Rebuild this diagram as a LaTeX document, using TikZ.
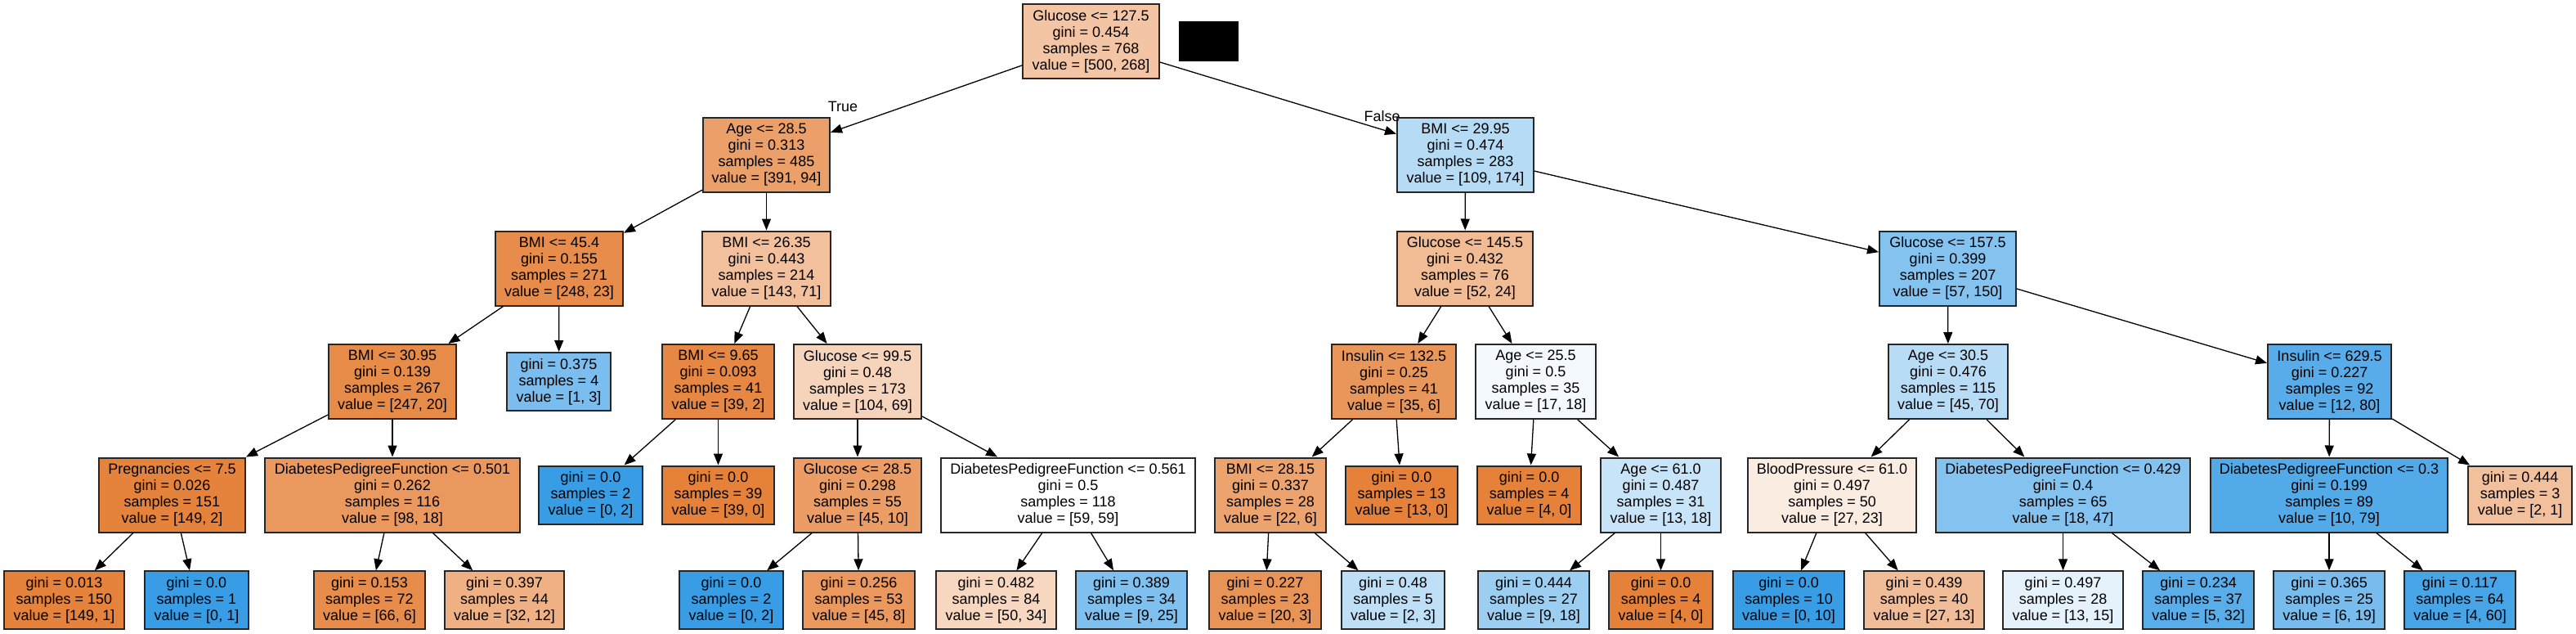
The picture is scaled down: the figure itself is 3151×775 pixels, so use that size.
\documentclass[tikz,border=0pt]{standalone}
\usepackage{fontspec}
\setmainfont{Liberation Sans}
\usetikzlibrary{arrows.meta}
\definecolor{Corg}{RGB}{229,129,57}
\definecolor{Cblu}{RGB}{57,157,229}
\tikzset{
  box/.style={draw=black!85, line width=1pt, rectangle, inner sep=0pt, align=center,
    font=\fontsize{9}{10}\selectfont, minimum height=45.5pt},
  leafbox/.style={box, minimum height=35.5pt},
  edge/.style={line width=0.65pt, -{Triangle[length=7pt,width=5.5pt]}},
  elabel/.style={font=\fontsize{9}{10}\selectfont, inner sep=0pt}
}
\newcommand\tn[6]{\node[box,fill=#5,minimum width={#4*0.5pt}] (#1) at (#2,#3) {#6};}
\newcommand\tl[6]{\node[leafbox,fill=#5,minimum width={#4*0.5pt}] (#1) at (#2,#3) {#6};}
\begin{document}
\begin{tikzpicture}[x=0.5pt,y=-0.5pt]
\useasboundingbox[fill=white] (0,0) rectangle (3151,775);
% level 0
\tn{n0}{1334.5}{50.5}{167}{Corg!46!white}{Glucose <= 127.5\\gini = 0.454\\samples = 768\\value = [500, 268]}
\fill[black] (1442,26) rectangle (1515,75);
% level 1
\tn{n1}{937.5}{189.25}{155}{Corg!76!white}{Age <= 28.5\\gini = 0.313\\samples = 485\\value = [391, 94]}
\tn{n2}{1792.5}{189.25}{167}{Cblu!37!white}{BMI <= 29.95\\gini = 0.474\\samples = 283\\value = [109, 174]}
% level 2
\tn{n3}{684}{328}{156}{Corg!91!white}{BMI <= 45.4\\gini = 0.155\\samples = 271\\value = [248, 23]}
\tn{n4}{937.5}{328}{157}{Corg!50!white}{BMI <= 26.35\\gini = 0.443\\samples = 214\\value = [143, 71]}
\tn{n5}{1792}{328}{166}{Corg!54!white}{Glucose <= 145.5\\gini = 0.432\\samples = 76\\value = [52, 24]}
\tn{n6}{2382.5}{328}{167}{Cblu!62!white}{Glucose <= 157.5\\gini = 0.399\\samples = 207\\value = [57, 150]}
% level 3
\tn{n7}{480}{466.5}{156}{Corg!92!white}{BMI <= 30.95\\gini = 0.139\\samples = 267\\value = [247, 20]}
\tl{n8}{683.5}{466.5}{127}{Cblu!67!white}{gini = 0.375\\samples = 4\\value = [1, 3]}
\tn{n9}{878.5}{466.5}{137}{Corg!95!white}{BMI <= 9.65\\gini = 0.093\\samples = 41\\value = [39, 2]}
\tn{n10}{1049}{466.5}{156}{Corg!34!white}{Glucose <= 99.5\\gini = 0.48\\samples = 173\\value = [104, 69]}
\tn{n11}{1705}{466.5}{152}{Corg!83!white}{Insulin <= 132.5\\gini = 0.25\\samples = 41\\value = [35, 6]}
\tn{n12}{1878.5}{466.5}{147}{Cblu!6!white}{Age <= 25.5\\gini = 0.5\\samples = 35\\value = [17, 18]}
\tn{n13}{2383}{466.5}{146}{Cblu!36!white}{Age <= 30.5\\gini = 0.476\\samples = 115\\value = [45, 70]}
\tn{n14}{2849.5}{466.5}{151}{Cblu!85!white}{Insulin <= 629.5\\gini = 0.227\\samples = 92\\value = [12, 80]}
% level 4
\tn{n15}{210.5}{605}{179}{Corg!99!white}{Pregnancies <= 7.5\\gini = 0.026\\samples = 151\\value = [149, 2]}
\tn{n16}{480}{605}{312}{Corg!82!white}{DiabetesPedigreeFunction <= 0.501\\gini = 0.262\\samples = 116\\value = [98, 18]}
\tl{n17}{722.5}{605}{127}{Cblu}{gini = 0.0\\samples = 2\\value = [0, 2]}
\tl{n18}{878.5}{605}{137}{Corg}{gini = 0.0\\samples = 39\\value = [39, 0]}
\tn{n19}{1049}{605}{156}{Corg!78!white}{Glucose <= 28.5\\gini = 0.298\\samples = 55\\value = [45, 10]}
\tn{n20}{1306.5}{605}{311}{white}{DiabetesPedigreeFunction <= 0.561\\gini = 0.5\\samples = 118\\value = [59, 59]}
\tn{n21}{1554}{605}{136}{Corg!73!white}{BMI <= 28.15\\gini = 0.337\\samples = 28\\value = [22, 6]}
\tl{n22}{1714.5}{605}{137}{Corg}{gini = 0.0\\samples = 13\\value = [13, 0]}
\tl{n23}{1870.5}{605}{127}{Corg}{gini = 0.0\\samples = 4\\value = [4, 0]}
\tn{n24}{2031.5}{605}{147}{Cblu!28!white}{Age <= 61.0\\gini = 0.487\\samples = 31\\value = [13, 18]}
\tn{n25}{2241}{605}{206}{Corg!15!white}{BloodPressure <= 61.0\\gini = 0.497\\samples = 50\\value = [27, 23]}
\tn{n26}{2523.5}{605}{311}{Cblu!62!white}{DiabetesPedigreeFunction <= 0.429\\gini = 0.4\\samples = 65\\value = [18, 47]}
\tn{n27}{2849}{605}{290}{Cblu!87!white}{DiabetesPedigreeFunction <= 0.3\\gini = 0.199\\samples = 89\\value = [10, 79]}
\tl{n28}{3082.5}{605}{127}{Corg!50!white}{gini = 0.444\\samples = 3\\value = [2, 1]}
% level 5
\tl{n29}{78.5}{733.8}{147}{Corg!99!white}{gini = 0.013\\samples = 150\\value = [149, 1]}
\tl{n30}{240.5}{733.8}{127}{Cblu}{gini = 0.0\\samples = 1\\value = [0, 1]}
\tl{n31}{452}{733.8}{136}{Corg!91!white}{gini = 0.153\\samples = 72\\value = [66, 6]}
\tl{n32}{617}{733.8}{146}{Corg!62!white}{gini = 0.397\\samples = 44\\value = [32, 12]}
\tl{n33}{894.5}{733.8}{127}{Cblu}{gini = 0.0\\samples = 2\\value = [0, 2]}
\tl{n34}{1050.5}{733.8}{137}{Corg!82!white}{gini = 0.256\\samples = 53\\value = [45, 8]}
\tl{n35}{1218.5}{733.8}{147}{Corg!32!white}{gini = 0.482\\samples = 84\\value = [50, 34]}
\tl{n36}{1384}{733.8}{136}{Cblu!64!white}{gini = 0.389\\samples = 34\\value = [9, 25]}
\tl{n37}{1547.5}{733.8}{137}{Corg!85!white}{gini = 0.227\\samples = 23\\value = [20, 3]}
\tl{n38}{1704}{733.8}{126}{Cblu!33!white}{gini = 0.48\\samples = 5\\value = [2, 3]}
\tl{n39}{1876}{733.8}{136}{Cblu!50!white}{gini = 0.444\\samples = 27\\value = [9, 18]}
\tl{n40}{2031.5}{733.8}{127}{Corg}{gini = 0.0\\samples = 4\\value = [4, 0]}
\tl{n41}{2188}{733.8}{136}{Cblu}{gini = 0.0\\samples = 10\\value = [0, 10]}
\tl{n42}{2353.5}{733.8}{147}{Corg!52!white}{gini = 0.439\\samples = 40\\value = [27, 13]}
\tl{n43}{2523.5}{733.8}{147}{Cblu!13!white}{gini = 0.497\\samples = 28\\value = [13, 15]}
\tl{n44}{2689}{733.8}{136}{Cblu!84!white}{gini = 0.234\\samples = 37\\value = [5, 32]}
\tl{n45}{2849}{733.8}{136}{Cblu!68!white}{gini = 0.365\\samples = 25\\value = [6, 19]}
\tl{n46}{3009}{733.8}{136}{Cblu!93!white}{gini = 0.117\\samples = 64\\value = [4, 60]}
% edge labels
\node[elabel] (ltrue) at (1031,130) {True};
\node[elabel] (lfalse) at (1690.5,141.7) {False};
% edges
\foreach \a/\b in {n0/n1,n0/n2,n1/n3,n1/n4,n2/n5,n2/n6,n3/n7,n3/n8,n4/n9,n4/n10,
  n5/n11,n5/n12,n6/n13,n6/n14,n7/n15,n7/n16,n9/n17,n9/n18,n10/n19,n10/n20,
  n11/n21,n11/n22,n12/n23,n12/n24,n13/n25,n13/n26,n14/n27,n14/n28,
  n15/n29,n15/n30,n16/n31,n16/n32,n19/n33,n19/n34,n20/n35,n20/n36,
  n21/n37,n21/n38,n24/n39,n24/n40,n25/n41,n25/n42,n26/n43,n26/n44,n27/n45,n27/n46}
  {\draw[edge] (\a) -- (\b);}
\end{tikzpicture}
\end{document}
